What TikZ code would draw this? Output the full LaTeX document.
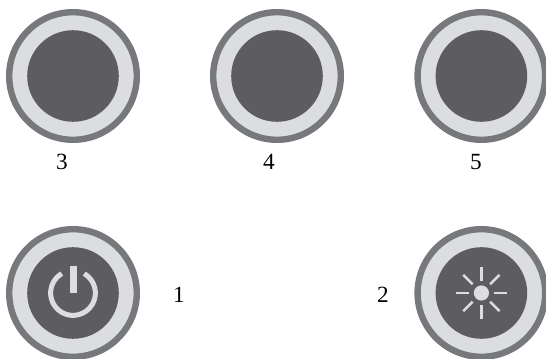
\documentclass[tikz,border=0pt]{standalone}
\usepackage{fontspec}
\setmainfont{Liberation Serif}
\definecolor{rimgray}{HTML}{76787B}
\definecolor{ringgray}{HTML}{DCDDDE}
\definecolor{facegray}{HTML}{5D5D5F}

\begin{document}
\begin{tikzpicture}[every node/.style={font=\fontsize{16.5}{16.5}\selectfont},
	rim/.style={circle, draw=rimgray, fill=ringgray, line width=0.16cm, minimum size=3.19cm, inner sep=0pt},
	face/.style={circle, fill=facegray, minimum size=2.29cm, inner sep=0pt},
	icon/.style={draw=ringgray, line cap=butt}]
	\useasboundingbox (0,0) rectangle (13.65,8.975);
	% top row
	\node[rim] (rimC) at (1.825,7.075) {};
	\node[face] (faceC) at (rimC) {};
	\node[rim] (rimD) at (6.925,7.075) {};
	\node[face] (faceD) at (rimD) {};
	\node[rim] (rimE) at (12.035,7.075) {};
	\node[face] (faceE) at (rimE) {};
	\node (numC) at (1.55,4.925) {3};
	\node (numD) at (6.725,4.925) {4};
	\node (numE) at (11.9,4.925) {5};
	% bottom row
	\node[rim] (rimA) at (1.825,1.65) {};
	\node[face] (faceA) at (rimA) {};
	\node[rim] (rimB) at (12.035,1.65) {};
	\node[face] (faceB) at (rimB) {};
	\node (numA) at (4.475,1.6) {1};
	\node (numB) at (9.575,1.6) {2};
	% power symbol
	\draw[icon, line width=0.125cm] ([shift={(60:0.56)}]faceA.center) arc (60:-240:0.56);
	\draw[icon, line width=0.175cm] ([yshift=0.68cm]faceA.center) -- (faceA.center);
	% sun symbol
	\node[circle, fill=ringgray, minimum size=0.38cm, inner sep=0pt] (sunB) at (faceB) {};
	\foreach \ang in {0,45,...,315}
		\draw[icon, line width=0.065cm] ([shift={(\ang:0.31)}]faceB.center) -- ([shift={(\ang:0.64)}]faceB.center);
\end{tikzpicture}
\end{document}
